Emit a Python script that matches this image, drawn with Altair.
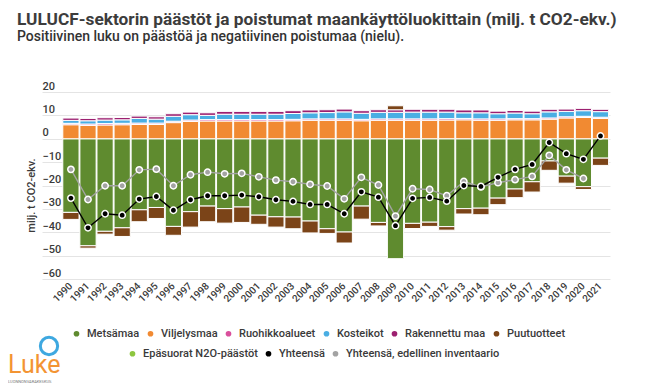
import altair as alt
import pandas as pd

years = [str(y) for y in range(1990, 2022)]

metsamaa = [-31.5, -45.8, -39.6, -38.1, -30.4, -29.4, -37.5, -31.2, -28.8, -29.9, -29.2,
            -32.7, -33.4, -33.5, -35.2, -38.5, -39.9, -28.8, -35.8, -51.3, -36.2, -35.7,
            -37.6, -29.9, -29.7, -25.4, -21.5, -18.4, -9.5, -16.0, -20.5, -8.3]
viljelysmaa = [6.0, 5.7, 5.9, 6.0, 6.1, 6.1, 6.9, 7.4, 7.6, 7.6, 7.6, 7.6, 7.6, 7.7, 7.9, 7.9,
               7.9, 7.7, 7.9, 7.9, 7.9, 7.9, 8.0, 8.1, 7.9, 7.9, 8.1, 8.1, 8.4, 8.9, 9.1, 8.7]
ruohikkoalueet = [0.6, 0.6, 0.6, 0.6, 0.6, 0.6, 0.6, 0.6, 0.6, 0.6, 0.6, 0.6, 0.6, 0.6, 0.6, 0.6,
                  0.6, 0.6, 0.6, 0.6, 0.6, 0.6, 0.6, 0.6, 0.6, 0.6, 0.5, 0.5, 0.5, 0.5, 0.5, 0.5]
kosteikot = [1.25, 1.4, 1.5, 1.5, 2.0, 1.7, 2.1, 2.3, 1.8, 2.3, 2.3, 2.3, 2.3, 2.5, 2.6, 2.7,
             3.0, 2.6, 2.8, 2.8, 2.9, 2.9, 2.8, 2.4, 2.6, 2.2, 2.4, 2.1, 2.6, 2.3, 2.4, 2.4]
rakennettu = [1.0, 1.0, 1.0, 1.0, 1.0, 1.0, 1.1, 1.1, 1.1, 1.2, 1.2, 1.2, 1.2, 1.2, 1.2, 1.2,
              1.2, 1.1, 1.1, 1.1, 1.2, 1.2, 1.2, 1.2, 1.2, 1.1, 1.1, 1.1, 1.1, 1.0, 1.0, 1.0]
puutuotteet = [-3.0, -1.0, -1.2, -3.7, -5.1, -4.7, -3.8, -6.6, -6.7, -6.2, -6.6, -3.9, -4.4,
               -5.0, -5.1, -2.0, -4.7, -5.6, -1.5, 1.7, -2.2, -1.8, -1.5, -2.3, -2.8, -2.8,
               -3.7, -4.4, -4.0, -3.0, -1.2, -3.1]
yhteensa = [-25.4, -38.1, -32.1, -32.7, -25.8, -24.7, -30.6, -26.1, -24.4, -24.4, -24.1,
            -24.8, -26.1, -26.8, -28.1, -28.1, -32.1, -22.7, -25.0, -37.2, -25.5, -25.1,
            -26.7, -20.0, -20.4, -16.5, -13.1, -11.0, -1.6, -6.4, -8.8, 1.2]
edellinen = [-13.1, -26.0, -20.1, -20.1, -13.3, -13.0, -20.1, -15.4, -14.3, -15.0, -14.8,
             -16.3, -17.7, -18.4, -19.5, -20.2, -25.7, -16.5, -19.8, -33.1, -21.4, -21.7,
             -24.4, -18.3, -20.6, -18.8, -17.5, -16.1, -7.1, -13.3, -17.0]
y_ticks = [-60, -50, -40, -30, -20, -10, 0, 10, 20]

bar_cats = ["Metsämaa", "Viljelysmaa", "Ruohikkoalueet", "Kosteikot", "Rakennettu maa", "Puutuotteet"]
bar_colors = ["#5f8b2f", "#f18a32", "#d94f9c", "#4aaee3", "#9c2070", "#7b4418"]
line_cats = ["Epäsuorat N2O-päästöt", "Yhteensä", "Yhteensä, edellinen inventaario"]
line_colors = ["#8dc63f", "#000000", "#a3a3a3"]

series = [metsamaa, viljelysmaa, ruohikkoalueet, kosteikot, rakennettu, puutuotteet]
rows = []
for ci, (cat, vals) in enumerate(zip(bar_cats, series)):
    for y, v in zip(years, vals):
        rows.append({"year": y, "cat": cat, "value": v, "ord": ci})
bars_df = pd.DataFrame(rows)

lrows = []
for y, v in zip(years, edellinen):
    lrows.append({"year": y, "series": line_cats[2], "value": v})
for y, v in zip(years, yhteensa):
    lrows.append({"year": y, "series": line_cats[1], "value": v})
lines_df = pd.DataFrame(lrows)

FONT = "Roboto"
TXT = "#3a3a3a"

xscale = alt.Scale(domain=years, paddingInner=0.05, paddingOuter=0.65, align=0.937)
yscale = alt.Scale(domain=[-60, 20], nice=False, zero=False)

xaxis = alt.Axis(title=None, labelAngle=-45, labelAlign="right", labelBaseline="middle",
                 domain=False, ticks=False, labelPadding=5, labelFont=FONT,
                 labelFontSize=10, labelFontWeight=500, labelColor=TXT)
yaxis = alt.Axis(values=y_ticks, grid=True, gridColor="#e4e4e4",
                 domain=False, ticks=False, tickSize=0, labelAlign="left",
                 labelBaseline="bottom", labelPadding=0, labelOffset=-1,
                 labelOverlap=False, labelFont=FONT, labelFontSize=11,
                 labelFontWeight=500, labelColor=TXT, title="milj. t CO2-ekv.",
                 titleX=-11, titleY=103, titleAngle=270, titleAlign="center",
                 titleBaseline="middle", titleFont=FONT, titleFontSize=11,
                 titleFontWeight=500, titleColor=TXT)

legend_common = dict(title=None, orient="none", direction="horizontal", symbolType="circle",
                     symbolSize=32, symbolStrokeWidth=0, labelFont=FONT, labelFontSize=11,
                     labelFontWeight=500, labelColor=TXT, labelOffset=5, columnPadding=5,
                     padding=0, labelLimit=300)

bars = alt.Chart(bars_df).mark_bar(stroke="white", strokeWidth=1).encode(
    x=alt.X("year:O", scale=xscale, sort=None, axis=xaxis),
    y=alt.Y("value:Q", scale=yscale, stack="zero", axis=yaxis),
    color=alt.Color("cat:N", scale=alt.Scale(domain=bar_cats, range=bar_colors),
                    legend=alt.Legend(legendX=29, legendY=236, **legend_common)),
    order=alt.Order("ord:Q"),
)

lines = alt.Chart(lines_df).mark_line(strokeWidth=1.4).encode(
    x=alt.X("year:O", scale=xscale, sort=None, axis=xaxis),
    y=alt.Y("value:Q", scale=yscale, axis=yaxis),
    stroke=alt.Stroke("series:N", scale=alt.Scale(domain=line_cats, range=line_colors), legend=None),
    detail="series:N",
)

points = alt.Chart(lines_df).mark_point(filled=True, size=40, stroke="white", strokeWidth=1.5,
                                         opacity=1).encode(
    x=alt.X("year:O", scale=xscale, sort=None, axis=xaxis),
    y=alt.Y("value:Q", scale=yscale, axis=yaxis),
    fill=alt.Fill("series:N", scale=alt.Scale(domain=line_cats, range=line_colors),
                  legend=alt.Legend(legendX=85, legendY=256, **legend_common)),
)

logo_df = pd.DataFrame({"t": ["Luke"]})
logo_text = alt.Chart(logo_df).mark_text(font=FONT, fontSize=25, color="#f39433",
                                         align="left", baseline="alphabetic").encode(
    text="t:N", x=alt.value(-34), y=alt.value(281))
sub_df = pd.DataFrame({"t": ["LUONNONVARAKESKUS"]})
logo_sub = alt.Chart(sub_df).mark_text(font=FONT, fontSize=4, color="#777",
                                       align="left", baseline="alphabetic").encode(
    text="t:N", x=alt.value(-34), y=alt.value(291))
bubble = alt.Chart(logo_df).mark_point(shape="circle", filled=False, stroke="#3ea8e0",
                                       strokeWidth=3, size=300, opacity=1).encode(
    x=alt.value(7), y=alt.value(254))

chart = alt.layer(bars, lines, points, logo_text, logo_sub, bubble).resolve_scale(
    fill="independent", stroke="independent"
).properties(
    width=568, height=187,
    title=alt.TitleParams(
        text="LULUCF-sektorin päästöt ja poistumat maankäyttöluokittain (milj. t CO2-ekv.)",
        subtitle="Positiivinen luku on päästöä ja negatiivinen poistumaa (nielu).",
        anchor="start", frame="group", dx=-25, font=FONT, fontSize=17.3, fontWeight="bold",
        color="#3c3c3c", subtitleFont=FONT, subtitleFontSize=14, subtitleFontWeight=500,
        subtitleColor="#333333", subtitlePadding=2, offset=36),
    autosize=alt.AutoSizeParams(type="none"),
    padding={"left": 34, "top": 84, "right": 32, "bottom": 104},
).configure_view(stroke=None).configure_axisY(labelOverlap=False)

chart.save("out.html", embed_options={"renderer": "svg", "actions": False})
